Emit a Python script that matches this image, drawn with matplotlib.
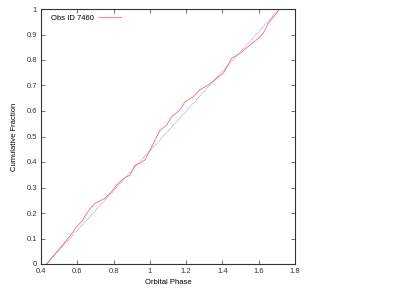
import matplotlib
matplotlib.use("Agg")
import matplotlib.pyplot as plt
import numpy as np

plt.rcParams['font.family'] = ['Liberation Sans', 'DejaVu Sans']

obs_phase = [0.431, 0.46, 0.495, 0.52, 0.542, 0.578, 0.60, 0.624, 0.652, 0.675, 0.698,
             0.753, 0.790, 0.817, 0.854, 0.891, 0.918, 0.946, 0.973, 1.001, 1.028,
             1.056, 1.093, 1.12, 1.166, 1.194, 1.24, 1.277, 1.322, 1.369, 1.405,
             1.451, 1.497, 1.552, 1.598, 1.625, 1.653, 1.69, 1.714]
obs_frac = [0.0, 0.025, 0.055, 0.075, 0.094, 0.127, 0.15, 0.166, 0.199, 0.22, 0.238,
            0.258, 0.284, 0.31, 0.335, 0.349, 0.388, 0.395, 0.408, 0.447, 0.486,
            0.525, 0.545, 0.578, 0.604, 0.637, 0.656, 0.684, 0.702, 0.729, 0.748,
            0.807, 0.826, 0.859, 0.885, 0.905, 0.944, 0.976, 1.0]

# uniform expectation
model_phase = [0.431, 1.714]
model_frac = [0.0, 1.0]

fig = plt.figure(figsize=(4.12, 2.89), dpi=100)
ax = fig.add_axes([41/412, 1 - 264/289, (295-41)/412, (264-9)/289])

ax.plot(obs_phase, obs_frac, color='#ff6a6a', lw=0.6, label='Obs ID 7460')
ax.plot(model_phase, model_frac, color='#8080ff', lw=0.6, ls=(0, (1, 1)))

ax.set_xlim(0.4, 1.8)
ax.set_ylim(0, 1)
ax.set_xticks(np.arange(0.4, 1.81, 0.2))
ax.set_xticklabels(['0.4', '0.6', '0.8', '1', '1.2', '1.4', '1.6', '1.8'])
ax.set_yticks(np.arange(0, 1.01, 0.1))
ax.set_yticklabels(['0', '0.1', '0.2', '0.3', '0.4', '0.5', '0.6', '0.7', '0.8', '0.9', '1'])
ax.tick_params(direction='in', top=True, right=True, length=3, width=0.5,
               labelsize=5.5, pad=3, colors='#333333')
for s in ax.spines.values():
    s.set_linewidth(0.8)
    s.set_color('#333333')

ax.set_xlabel('Orbital Phase', fontsize=5.5, labelpad=3)
ax.set_ylabel('Cumulative Fraction', fontsize=5.5, labelpad=6)

ax.legend(loc='upper left', fontsize=5.5, frameon=False, markerfirst=False,
          handlelength=2.9, handletextpad=0.6, borderaxespad=0.3,
          bbox_to_anchor=(0.02, 1.0))

fig.savefig('out.png', dpi=100)
